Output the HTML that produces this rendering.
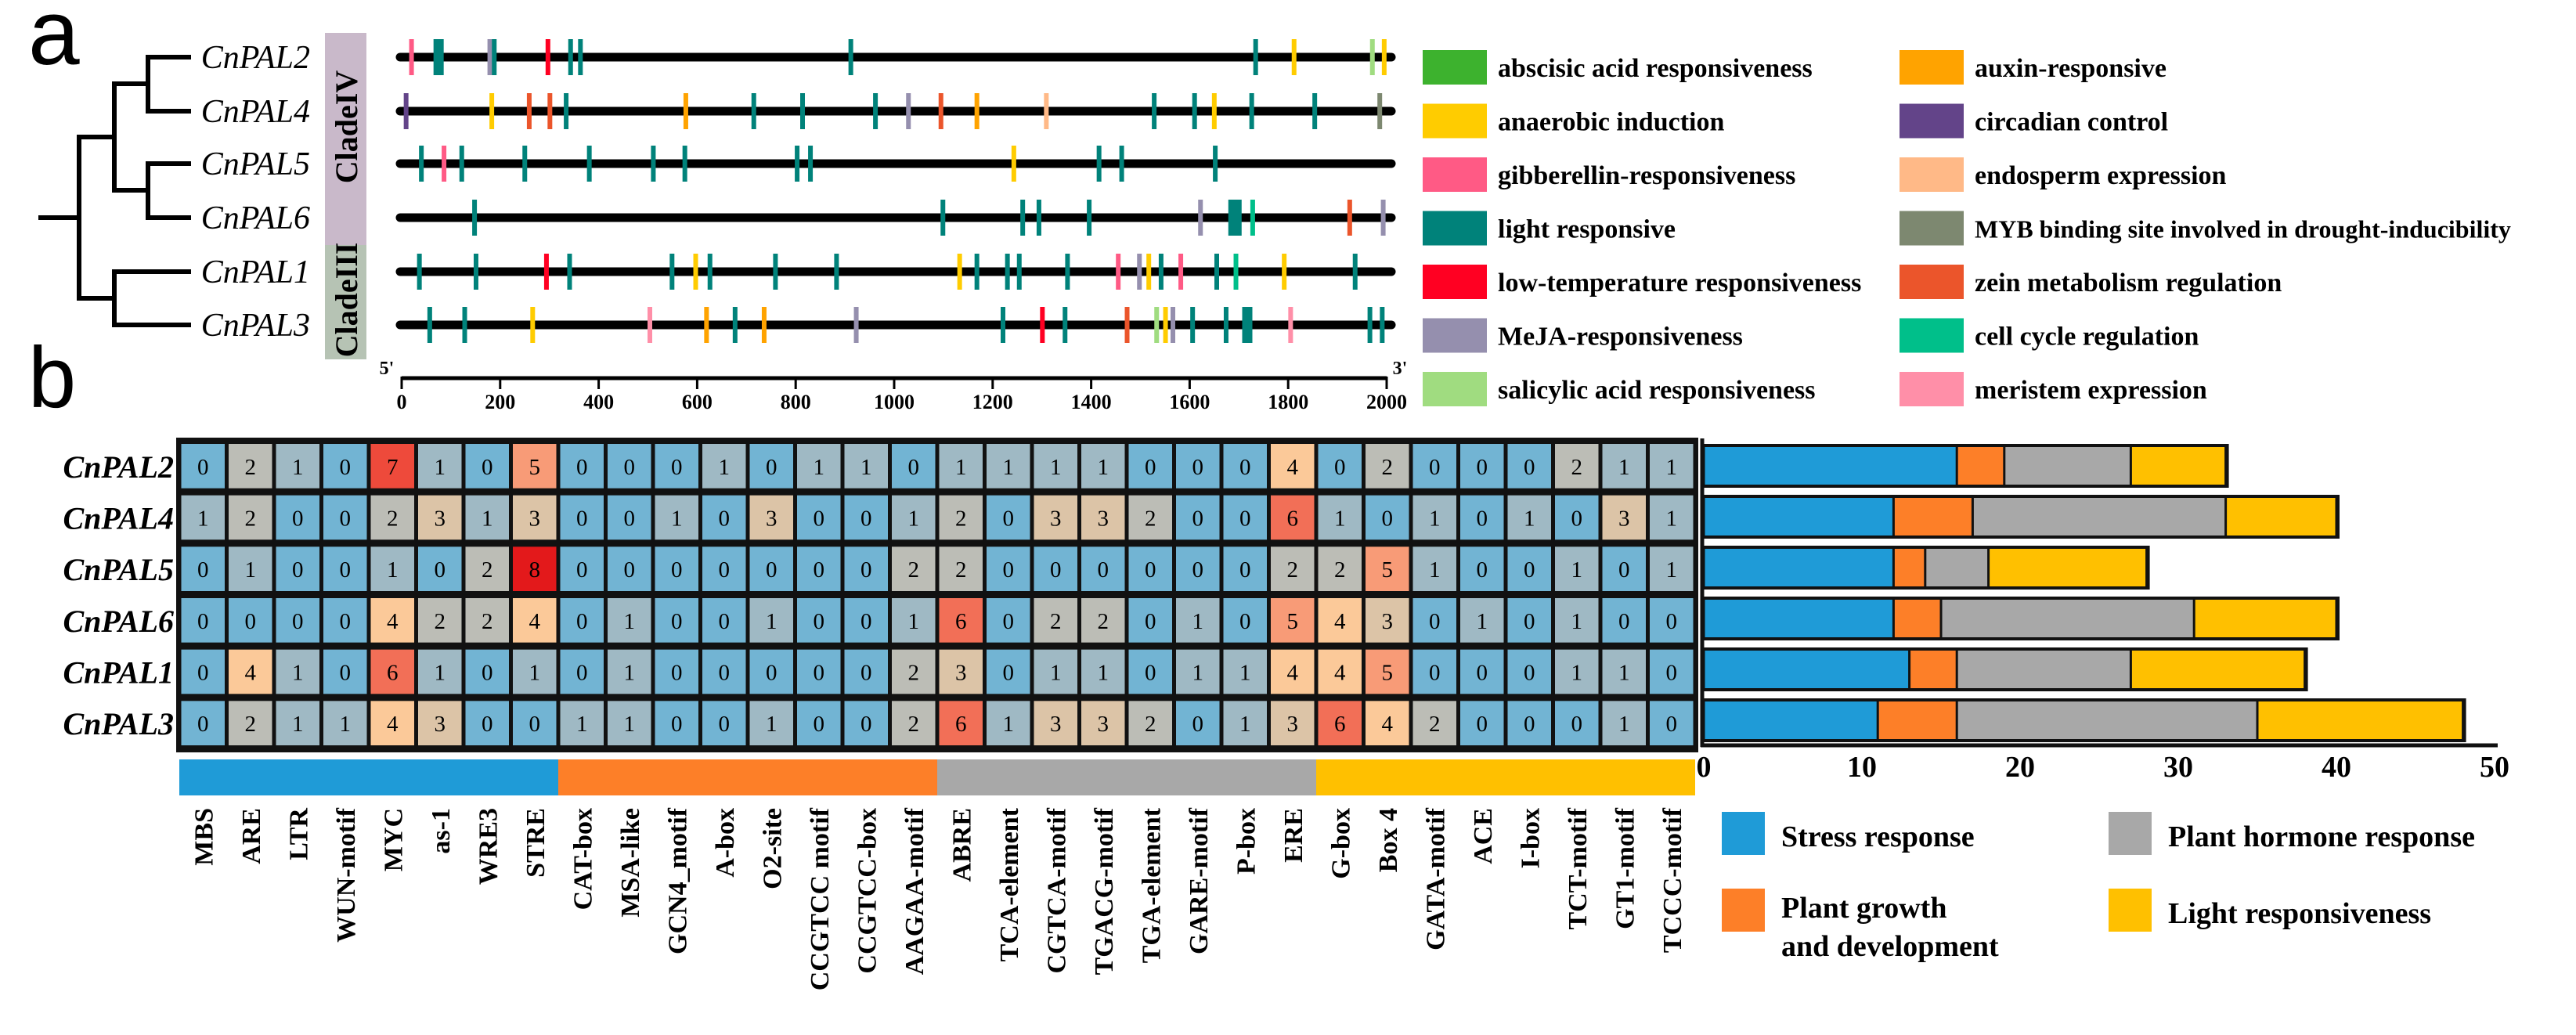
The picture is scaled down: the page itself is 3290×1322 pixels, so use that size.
<!DOCTYPE html>
<html><head><meta charset="utf-8">
<style>
html,body{margin:0;padding:0;background:#fff;}
svg{display:block;}
svg text{font-family:"Liberation Serif","Times New Roman","DejaVu Serif",serif !important;}
svg text.sans{font-family:"Liberation Sans","DejaVu Sans",sans-serif !important;}
</style></head>
<body>
<svg id="fig" width="3290" height="1322" viewBox="0 0 3290 1322" xmlns="http://www.w3.org/2000/svg" font-family="Liberation Serif, serif">
  <text class="sans" x="36" y="82" font-family="Liberation Sans, sans-serif" font-size="118">a</text>
  <text class="sans" x="36" y="520" font-family="Liberation Sans, sans-serif" font-size="110">b</text>
  <g id="tree" stroke="#000" stroke-width="6" fill="none" stroke-linecap="square">
    <path d="M189 73 H241 M189 142 H241 M189 73 V142 M146 107 H189"/>
    <path d="M189 209 H241 M189 278 H241 M189 209 V278 M146 243 H189"/>
    <path d="M146 107 V243 M101 175 H146"/>
    <path d="M146 347 H241 M146 415 H241 M146 347 V415 M101 381 H146"/>
    <path d="M101 175 V381 M52 278 H101"/>
  </g>
  <rect x="415" y="42" width="53" height="271" fill="#c9b9ca"/>
  <rect x="415" y="313" width="53" height="146" fill="#b6c3b4"/>
  <text transform="translate(456,162) rotate(-90)" text-anchor="middle" font-family="Liberation Serif, serif" font-size="40" font-weight="bold">CladeIV</text>
  <text transform="translate(456,383) rotate(-90)" text-anchor="middle" font-family="Liberation Serif, serif" font-size="40" font-weight="bold">CladeIII</text>
  <g id="genes"></g>
  <g id="scale"></g>
  <g id="legendA"></g>
  <g id="heat"></g>
  <g id="catbar"></g>
  <g id="bars"></g>
  <g id="legendB"></g>
</svg>
<script>
// ---- Panel a data ----
const geneNames = ["CnPAL2","CnPAL4","CnPAL5","CnPAL6","CnPAL1","CnPAL3"];
const elementTypes = ["abscisic acid responsiveness","auxin-responsive","anaerobic induction","circadian control","gibberellin-responsiveness","endosperm expression","light responsive","MYB binding site involved in drought-inducibility","low-temperature responsiveness","zein metabolism regulation","MeJA-responsiveness","cell cycle regulation","salicylic acid responsiveness","meristem expression"];
const elementColors = ["#3db22e","#ffa300","#ffcc00","#634489","#ff5a85","#ffb987","#00827a","#7d8870","#ff0022","#eb552b","#958fae","#00bf8a","#a0dc80","#ff8fa8"];
// sites: [position, typeIndex, wide?]
const sitesPAL2 = [[20,4],[75,6,1],[179,10],[188,6],[297,8],[343,6],[363,6],[912,6],[1734,6],[1812,2],[1971,12],[1995,2]];
const sitesPAL4 = [[9,3],[183,2],[259,9],[301,9],[334,6],[577,1],[715,6],[814,6],[962,6],[1029,10],[1095,9],[1168,1],[1309,5],[1528,6],[1610,6],[1650,2],[1726,6],[1854,6],[1986,7]];
const sitesPAL5 = [[40,6],[86,4],[122,6],[250,6],[381,6],[511,6],[575,6],[803,6],[830,6],[1243,2],[1416,6],[1462,6],[1652,6]];
const sitesPAL6 = [[148,6],[1099,6],[1261,6],[1294,6],[1396,6],[1622,10],[1692,6,2],[1728,11],[1925,9],[1993,10]];
const sitesPAL1 = [[36,6],[151,6],[294,8],[341,6],[549,6],[597,2],[626,6],[759,6],[883,6],[1133,2],[1168,6],[1230,6],[1254,6],[1352,6],[1455,4],[1498,10],[1517,2],[1542,6],[1582,4],[1655,6],[1694,11],[1792,2],[1936,6]];
const sitesPAL3 = [[57,6],[128,6],[266,2],[504,13],[619,1],[677,6],[736,1],[923,10],[1221,6],[1301,8],[1347,6],[1473,9],[1533,12],[1551,2],[1566,10],[1606,6],[1674,6],[1717,6,1],[1805,13],[1966,6],[1991,6]];
const scaleTicks = [0,200,400,600,800,1000,1200,1400,1600,1800,2000];

// ---- Panel b data ----
const motifs = ["MBS","ARE","LTR","WUN-motif","MYC","as-1","WRE3","STRE","CAT-box","MSA-like","GCN4_motif","A-box","O2-site","CCGTCC motif","CCGTCC-box","AAGAA-motif","ABRE","TCA-element","CGTCA-motif","TGACG-motif","TGA-element","GARE-motif","P-box","ERE","G-box","Box 4","GATA-motif","ACE","I-box","TCT-motif","GT1-motif","TCCC-motif"];
const countsPAL2 = [0,2,1,0,7,1,0,5,0,0,0,1,0,1,1,0,1,1,1,1,0,0,0,4,0,2,0,0,0,2,1,1];
const countsPAL4 = [1,2,0,0,2,3,1,3,0,0,1,0,3,0,0,1,2,0,3,3,2,0,0,6,1,0,1,0,1,0,3,1];
const countsPAL5 = [0,1,0,0,1,0,2,8,0,0,0,0,0,0,0,2,2,0,0,0,0,0,0,2,2,5,1,0,0,1,0,1];
const countsPAL6 = [0,0,0,0,4,2,2,4,0,1,0,0,1,0,0,1,6,0,2,2,0,1,0,5,4,3,0,1,0,1,0,0];
const countsPAL1 = [0,4,1,0,6,1,0,1,0,1,0,0,0,0,0,2,3,0,1,1,0,1,1,4,4,5,0,0,0,1,1,0];
const countsPAL3 = [0,2,1,1,4,3,0,0,1,1,0,0,1,0,0,2,6,1,3,3,2,0,1,3,6,4,2,0,0,0,1,0];
const categories = ["Stress response","Plant growth and development","Plant hormone response","Light responsiveness"];
const categorySizes = [8,8,8,8];
const categoryColors = ["#1f9bd7","#fd7f28","#a8a8a8","#ffc000"];
const barTicks = [0,10,20,30,40,50];
const heatPalette = ["#72b4d3","#9fb9c4","#bcbdb6","#dcc4a7","#fbc999","#f89b77","#f26f57","#ee4a3b","#e3191b"];

const NS = "http://www.w3.org/2000/svg";
const SERIF = "Liberation Serif, serif";
function mk(tag, attrs, parent){
  const e = document.createElementNS(NS, tag);
  if (tag === 'text') e.setAttribute('font-family', SERIF);
  for (const k in attrs) e.setAttribute(k, attrs[k]);
  parent.appendChild(e);
  return e;
}

// ---- Panel a ----
const allSites = [sitesPAL2,sitesPAL4,sitesPAL5,sitesPAL6,sitesPAL1,sitesPAL3];
const geneRowY = [73,142,209,278,347,415];
const posX = p => 513 + p * (1258/2000);
const genesG = document.getElementById('genes');
geneNames.forEach((g,i)=>{
  const y = geneRowY[i];
  const lab = mk('text',{x:396,y:y+14,'text-anchor':'end','font-size':42,'font-style':'italic'},genesG);
  lab.textContent = g;
  
  
  const line = mk('line',{x1:511,x2:1777,y1:y,y2:y,stroke:'#000','stroke-width':11,'stroke-linecap':'round'},genesG);
  
  
  allSites[i].forEach(s=>{
    const w = s[2]===2 ? 17 : (s[2] ? 13 : 6);
    const r = mk('rect',{x:posX(s[0])-w/2,y:y-23,width:w,height:46,fill:elementColors[s[1]]},genesG);
    
    
  });
});
const sc = document.getElementById('scale');
mk('line',{x1:posX(0),x2:posX(2000),y1:483,y2:483,stroke:'#000','stroke-width':5},sc);
scaleTicks.forEach(t=>{
  mk('line',{x1:posX(t),x2:posX(t),y1:481,y2:497,stroke:'#000','stroke-width':3},sc);
  const tx = mk('text',{x:posX(t),y:522,'text-anchor':'middle','font-size':26,'font-weight':'bold'},sc);
  tx.textContent = t;
  
  
});
const t5 = mk('text',{x:494,y:478,'font-size':24,'font-weight':'bold','text-anchor':'middle'},sc); t5.textContent="5'";


const t3 = mk('text',{x:1788,y:478,'font-size':24,'font-weight':'bold','text-anchor':'middle'},sc); t3.textContent="3'";



const la = document.getElementById('legendA');


elementTypes.forEach((n,i)=>{
  const col = i%2, row = Math.floor(i/2);
  const x = col ? 2426 : 1817, y = 86 + row*68.5;
  const r = mk('rect',{x:x,y:y-22,width:82,height:44,fill:elementColors[i]},la);
  
  
  const t = mk('text',{x:x+96,y:y+12,'font-size':n.length>40?32:34,'font-weight':'bold'},la);
  t.textContent = n;
  
  
});

// ---- Heatmap ----
const allCounts = [countsPAL2,countsPAL4,countsPAL5,countsPAL6,countsPAL1,countsPAL3];
const hx0 = 229, hx1 = 2165, hy0 = 563, hy1 = 957;
const cw = (hx1-hx0)/motifs.length, rh = (hy1-hy0)/geneNames.length;
const hg = document.getElementById('heat');


mk('rect',{x:hx0-4,y:hy0-4,width:hx1-hx0+8,height:hy1-hy0+8,fill:'#111'},hg);
allCounts.forEach((row,i)=>{
  const y = hy0 + i*rh;
  const lab = mk('text',{x:222,y:y+rh/2+14,'text-anchor':'end','font-size':40,'font-style':'italic','font-weight':'bold'},hg);
  lab.textContent = geneNames[i];
  
  
  row.forEach((v,j)=>{
    const x = hx0 + j*cw;
    const c = mk('rect',{x:x+2.5,y:y+4,width:cw-5,height:rh-9,fill:heatPalette[Math.min(v,8)]},hg);
    
    
    const t = mk('text',{x:x+cw/2,y:y+rh/2+10,'text-anchor':'middle','font-size':29},hg);
    t.textContent = v;
    
    
  });
});

// ---- Category bar + motif labels ----
const cb = document.getElementById('catbar');
let ci = 0;
categorySizes.forEach((n,k)=>{
  const r = mk('rect',{x:hx0+ci*cw,y:970,width:n*cw,height:46,fill:categoryColors[k]},cb);
  
  
  ci += n;
});
motifs.forEach((m,j)=>{
  const cx = hx0 + (j+0.5)*cw + 12;
  const t = mk('text',{transform:`translate(${cx},1032) rotate(-90)`,'text-anchor':'end','font-size':34,'font-weight':'bold'},cb);
  t.textContent = m;
  
  
});

// ---- Stacked bar chart ----
const bx0 = 2176, bxScale = (3186-2176)/50;
const bxs = v => bx0 + v*bxScale;
const bg = document.getElementById('bars');


allCounts.forEach((row,i)=>{
  const y = 571 + i*65;
  let acc = 0, start = 0;
  const sums = categorySizes.map(n=>{ const s = row.slice(start,start+n).reduce((a,b)=>a+b,0); start+=n; return s; });
  const total = sums.reduce((a,b)=>a+b,0);
  mk('rect',{x:bxs(0)-2,y:y-4,width:total*bxScale+6,height:56,fill:'#111'},bg);
  sums.forEach((s,k)=>{
    const r = mk('rect',{x:bxs(acc)+1.5,y:y,width:Math.max(s*bxScale-3,0),height:48,fill:categoryColors[k]},bg);
    
    
    acc += s;
  });
});
mk('line',{x1:2174,x2:2174,y1:560,y2:954,stroke:'#111','stroke-width':5},bg);
mk('line',{x1:2172,x2:3190,y1:952,y2:952,stroke:'#111','stroke-width':5},bg);
barTicks.forEach(t=>{
  const tx = mk('text',{x:bxs(t),y:992,'text-anchor':'middle','font-size':38,'font-weight':'bold'},bg);
  tx.textContent = t;
  
  
});

// ---- Legend b ----
const lb = document.getElementById('legendB');


const lbPos = [[2199,1037],[2199,1135],[2693,1037],[2693,1135]];
categories.forEach((c,k)=>{
  const [x,y] = lbPos[k];
  const r = mk('rect',{x:x,y:y,width:55,height:55,fill:categoryColors[k]},lb);
  
  
  const t = mk('text',{x:x+76,y:k===1?y+37:y+44,'font-size':38,'font-weight':'bold'},lb);
  if (k===1){
    const a = mk('tspan',{x:x+76},t); a.textContent = 'Plant growth';
    const b = mk('tspan',{x:x+76,dy:49},t); b.textContent = 'and development';
  } else t.textContent = c;
  
  
});
</script>
</body></html>
